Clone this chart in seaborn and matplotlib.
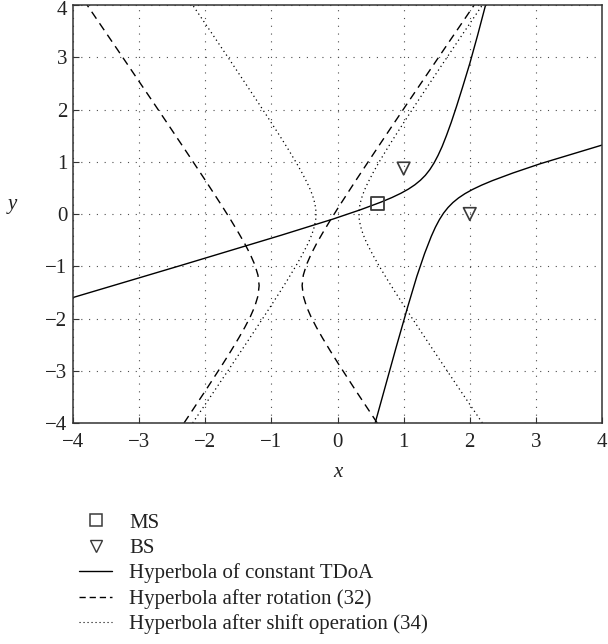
import matplotlib
matplotlib.use("Agg")
import matplotlib.pyplot as plt
import matplotlib.transforms as mtransforms
import seaborn as sns
from matplotlib.lines import Line2D

# ---- data ----
ms_x = [0.6]
ms_y = [0.2]
bs_x = [1.0, 2.0]
bs_y = [0.87, 0.0]

# Hyperbola of constant TDoA (solid): branch through the MS
tdoa_a_x = [-4.004, -2.383, -0.849, -0.066, 0.349, 0.659, 0.823, 0.959, 1.073, 1.170, 1.254,
            1.329, 1.396, 1.459, 1.520, 1.583, 1.648, 1.720, 1.800, 1.892, 2.000, 2.120, 2.240]
tdoa_a_y = [-1.600, -0.990, -0.405, -0.096, 0.082, 0.228, 0.315, 0.397, 0.477, 0.559, 0.646,
            0.741, 0.849, 0.974, 1.120, 1.294, 1.503, 1.754, 2.059, 2.429, 2.878, 3.426, 4.003]
# second branch
tdoa_b_x = [0.570, 0.885, 1.062, 1.200, 1.317, 1.418, 1.480, 1.541, 1.604, 1.672, 1.746,
            1.830, 1.927, 2.041, 2.177, 2.341, 2.651, 3.066, 4.003]
tdoa_b_y = [-3.998, -2.560, -1.776, -1.193, -0.757, -0.428, -0.254, -0.108, 0.017, 0.125, 0.220,
            0.307, 0.389, 0.469, 0.551, 0.638, 0.784, 0.962, 1.320]

# Hyperbola after rotation (dashed)
rot_y = [-4.0, -3.87, -3.37, -2.87, -2.62, -2.37, -2.17, -1.97, -1.77, -1.57, -1.37, -1.17, -0.97,
         -0.77, -0.57, -0.37, -0.12, 0.13, 0.63, 1.13, 1.63, 2.13, 2.63, 3.13, 3.63, 4.0]
rot_left_x = [-2.321, -2.253, -1.991, -1.735, -1.611, -1.492, -1.402, -1.320, -1.251, -1.203, -1.185,
              -1.203, -1.251, -1.320, -1.402, -1.492, -1.611, -1.735, -1.991, -2.253, -2.517, -2.783,
              -3.051, -3.319, -3.588, -3.787]
rot_right_x = [0.601, 0.533, 0.271, 0.015, -0.109, -0.228, -0.318, -0.400, -0.469, -0.517, -0.535,
               -0.517, -0.469, -0.400, -0.318, -0.228, -0.109, 0.015, 0.271, 0.533, 0.797, 1.063,
               1.331, 1.599, 1.868, 2.067]

# Hyperbola after shift operation (dotted)
shift_y = [-4, -3.5, -3, -2.5, -2, -1.5, -1.25, -1, -0.8, -0.6, -0.5, -0.4, -0.3, -0.2, -0.1, 0,
           0.1, 0.2, 0.3, 0.4, 0.5, 0.6, 0.8, 1, 1.25, 1.5, 2, 2.5, 3, 3.5, 4]
shift_right_x = [2.191, 1.923, 1.657, 1.393, 1.131, 0.875, 0.751, 0.632, 0.542, 0.460, 0.423, 0.391,
                 0.363, 0.343, 0.329, 0.325, 0.329, 0.343, 0.363, 0.391, 0.423, 0.460, 0.542, 0.632,
                 0.751, 0.875, 1.131, 1.393, 1.657, 1.923, 2.191]
shift_left_x = [-2.191, -1.923, -1.657, -1.393, -1.131, -0.875, -0.751, -0.632, -0.542, -0.460, -0.423,
                -0.391, -0.363, -0.343, -0.329, -0.325, -0.329, -0.343, -0.363, -0.391, -0.423, -0.460,
                -0.542, -0.632, -0.751, -0.875, -1.131, -1.393, -1.657, -1.923, -2.191]

ticks = [-4, -3, -2, -1, 0, 1, 2, 3, 4]
labels = ["MS", "BS", "Hyperbola of constant TDoA", "Hyperbola after rotation (32)",
          "Hyperbola after shift operation (34)"]

# ---- style ----
sns.set_theme(style="white")
plt.rcParams["font.family"] = ["Liberation Serif", "DejaVu Serif"]

fig = plt.figure(figsize=(6.08, 6.44), dpi=100)
ax = fig.add_axes([73 / 608, 1 - 423 / 644, 529 / 608, 418 / 644])

lw = 1.0
dash_style = (0, (6, 4))
dot_style = (0, (1, 2.6))
common = dict(ax=ax, sort=False, estimator=None, color="black", linewidth=lw, legend=False)

sns.lineplot(x=tdoa_a_x, y=tdoa_a_y, **common)
sns.lineplot(x=tdoa_b_x, y=tdoa_b_y, **common)
sns.lineplot(x=rot_left_x, y=rot_y, **common)
sns.lineplot(x=rot_right_x, y=rot_y, **common)
sns.lineplot(x=shift_left_x, y=shift_y, **common)
sns.lineplot(x=shift_right_x, y=shift_y, **common)

for ln in ax.lines[2:4]:
    ln.set_linestyle(dash_style)
for ln in ax.lines[4:6]:
    ln.set_linestyle(dot_style)
    ln.set_linewidth(0.9)

sns.scatterplot(x=ms_x, y=ms_y, ax=ax, marker="s", s=92, facecolor="none",
                edgecolor="#3a3a3a", linewidth=1.3, zorder=5, legend=False)
sns.scatterplot(x=bs_x, y=bs_y, ax=ax, marker="v", s=82, facecolor="none",
                edgecolor="#3a3a3a", linewidth=1.2, zorder=5, legend=False)

ax.set_xlim(-4, 4)
ax.set_ylim(-4, 4)
ax.set_xticks(ticks)
ax.set_yticks(ticks)
ax.grid(True, linestyle=(0, (1, 6)), color="0.3", linewidth=0.8)
ax.set_axisbelow(True)
for sp in ax.spines.values():
    sp.set_color("#333333")
    sp.set_linewidth(1.1)
ax.tick_params(axis="both", direction="in", length=4, width=0.8, color="#333333",
               labelsize=15, labelcolor="#222222", bottom=True, left=True)
ax.tick_params(axis="x", pad=7)
ax.tick_params(axis="y", pad=4)

# nudge the topmost y tick label so it stays inside the figure
top_label = ax.get_yticklabels()[-1]
top_label.set_transform(top_label.get_transform() +
                        mtransforms.ScaledTranslation(0, -3 / 100, fig.dpi_scale_trans))

ax.set_xlabel("x", fontsize=15, style="italic", color="#222222")
ax.set_ylabel("y", fontsize=15, style="italic", rotation=0, color="#222222")
ax.xaxis.set_label_coords(0.5, -0.095)
ax.yaxis.set_label_coords(-0.115, 0.5)

# legend
h_ms = Line2D([], [], marker="s", linestyle="none", markersize=8.5, markerfacecolor="none",
              markeredgecolor="#3a3a3a", markeredgewidth=1.1)
h_bs = Line2D([], [], marker="v", linestyle="none", markersize=8.5, markerfacecolor="none",
              markeredgecolor="#3a3a3a", markeredgewidth=1.0)
h_solid = Line2D([], [], color="black", linewidth=lw)
h_dash = Line2D([], [], color="black", linewidth=lw, linestyle=(0, (4.5, 2.8)))
h_dot = Line2D([], [], color="black", linewidth=0.8, linestyle=(0, (1, 2.6)))
fig.legend([h_ms, h_bs, h_solid, h_dash, h_dot], labels, loc="upper left",
           bbox_to_anchor=(79 / 608, 1 - 513 / 644), bbox_transform=fig.transFigure,
           frameon=False, fontsize=15, handlelength=1.6, handletextpad=0.8,
           labelspacing=0.27, borderpad=0, borderaxespad=0, labelcolor="#222222")

fig.savefig("out.png", dpi=100)
